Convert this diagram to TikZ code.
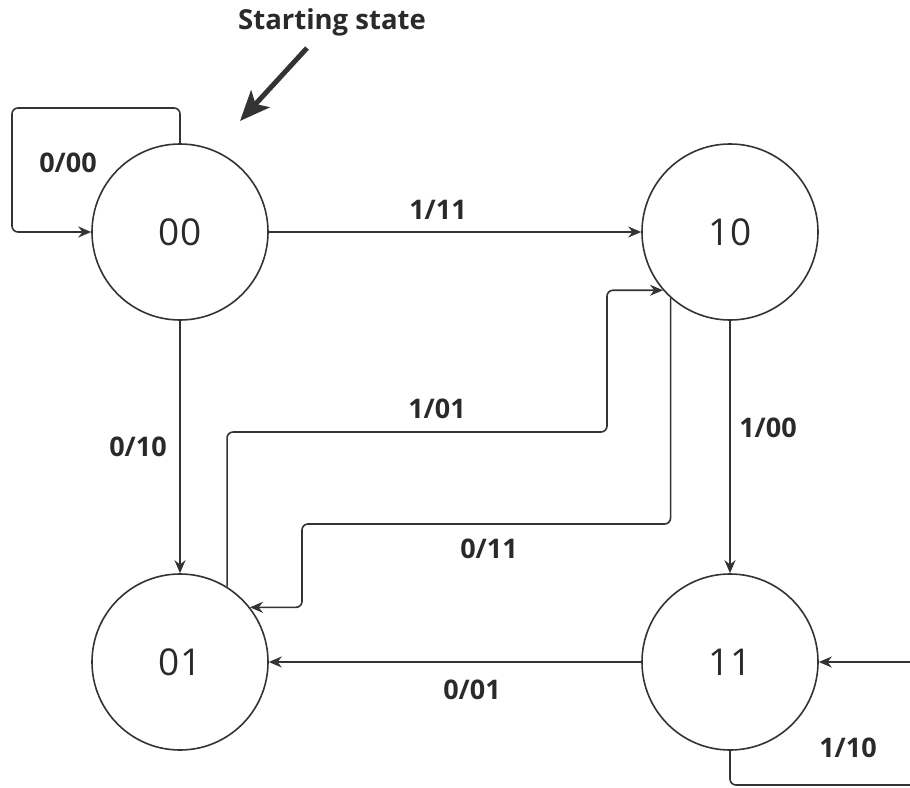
\documentclass[tikz,border=0pt]{standalone}
\usepackage{fontspec}
\setmainfont{Open Sans}
\usetikzlibrary{arrows.meta}
\definecolor{ln}{HTML}{333333}
\definecolor{tx}{HTML}{2a2a2a}
\begin{document}
\begin{tikzpicture}[x=1pt,y=-1pt,
 state/.style={circle,draw=ln,line width=1.6pt,minimum size=176pt,inner sep=0pt,font=\fontsize{37}{44}\selectfont,text=tx},
 lbl/.style={font=\bfseries\fontsize{27}{32}\selectfont,text=tx,inner sep=0pt},
 conn/.style={draw=ln,line width=1.6pt,-{Stealth[length=13pt,width=11pt]},rounded corners=6pt}]
\useasboundingbox (0,0) rectangle (910,787);
\clip (0,0) rectangle (910,787);
\node[state] (s00) at (180,232) {00};
\node[state] (s10) at (730,232) {10};
\node[state] (s01) at (180,662) {01};
\node[state] (s11) at (730,662) {11};
% starting state
\node[lbl,font=\bfseries\fontsize{27.5}{32}\selectfont] (start) at (332,22) {Starting state};
\coordinate (stA) at (307,48);
\coordinate (stB) at (240,121);
\draw[ln,line width=5pt,-{Stealth[length=30pt,width=25pt,inset=7pt]}] (stA) -- (stB);
% self loop 00
\coordinate (l0a) at (180,108);
\coordinate (l0b) at (12,232);
\draw[conn] (s00.north) -- (l0a) -| (l0b) -- (s00.west);
\node[lbl] (t000) at (68,163) {0/00};
% 00 -> 10
\draw[conn] (s00.east) -- (s10.west);
\node[lbl] (t111) at (438,210) {1/11};
% 00 -> 01
\draw[conn] (s00.south) -- (s01.north);
\node[lbl] (t010) at (138,447) {0/10};
% 10 -> 11
\draw[conn] (s10.south) -- (s11.north);
\node[lbl] (t100) at (768,428) {1/00};
% 11 -> 01
\draw[conn] (s11.west) -- (s01.east);
\node[lbl] (t001) at (472,690) {0/01};
% 01 -> 10
\coordinate (p1) at (607,432);
\draw[conn] (s01.58.5) |- (p1) |- (s10.221.3);
\node[lbl] (t101) at (437,409) {1/01};
% 10 -> 01
\coordinate (p2) at (302,524);
\draw[conn] (s10.228.7) |- (p2) |- (s01.38);
\node[lbl] (t011) at (489,549) {0/11};
% self loop 11
\coordinate (l1a) at (730,785);
\coordinate (l1b) at (940,662);
\draw[conn] (s11.south) -- (l1a) -| (l1b) -- (s11.east);
\node[lbl] (t110) at (848,748) {1/10};
\end{tikzpicture}
\end{document}
